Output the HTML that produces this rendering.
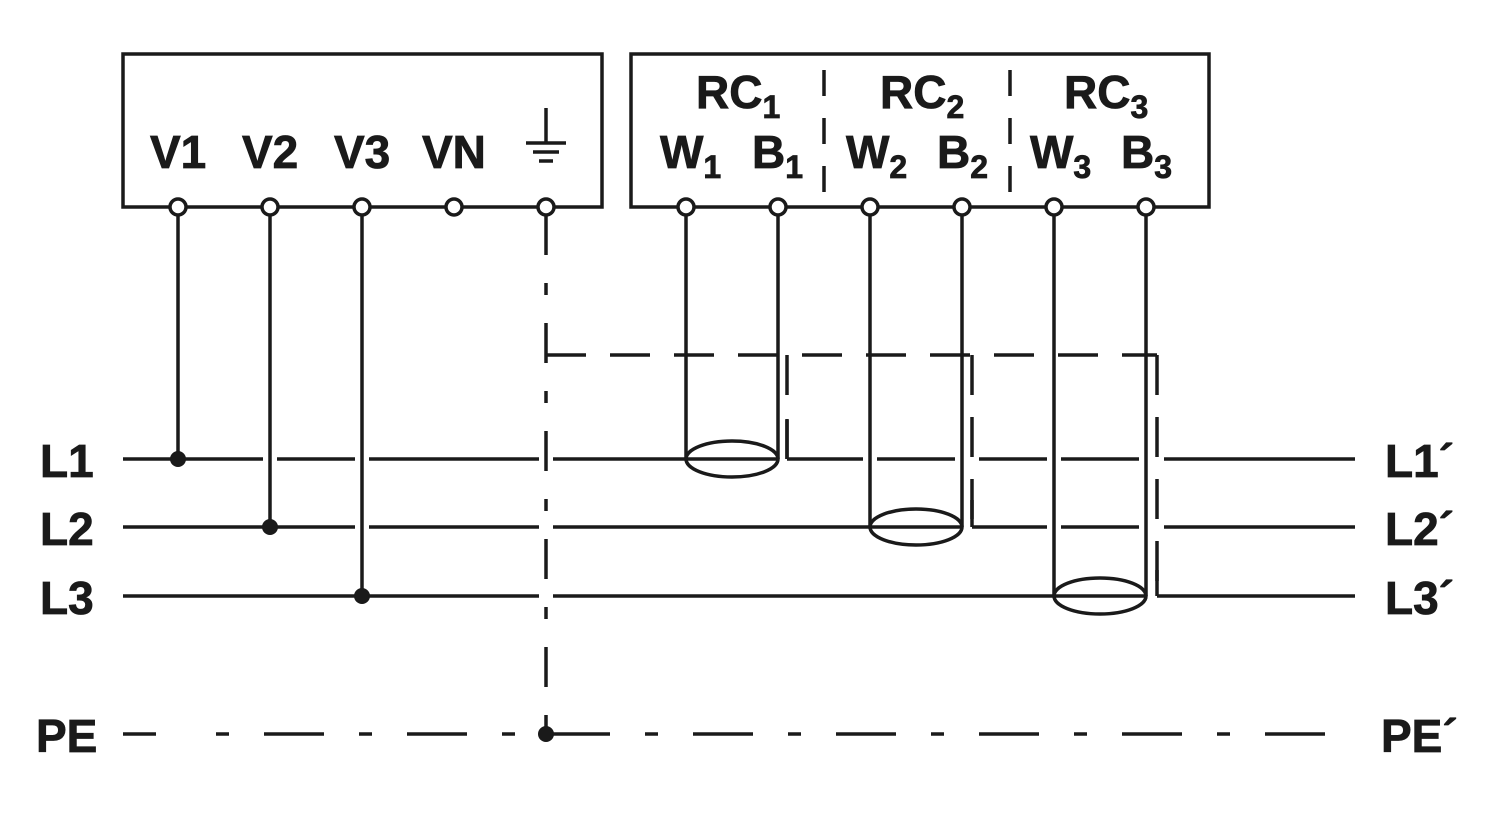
<!DOCTYPE html>
<html><head><meta charset="utf-8"><style>
html,body{margin:0;padding:0;background:#fff}
svg{display:block}
text{font-family:"Liberation Sans",sans-serif;font-weight:bold;fill:#1a1a1a}
</style></head><body>
<svg width="1500" height="821" viewBox="0 0 1500 821" xmlns="http://www.w3.org/2000/svg">
<g stroke="#1a1a1a" stroke-width="3.5" fill="none">
<rect x="123" y="54" width="479" height="153"/>
<rect x="631" y="54" width="578" height="153"/>
<line x1="824" y1="70" x2="824" y2="192" stroke-dasharray="26 22"/>
<line x1="1010" y1="70" x2="1010" y2="192" stroke-dasharray="26 22"/>
<line x1="546" y1="108" x2="546" y2="143"/>
<line x1="526" y1="143" x2="566" y2="143"/>
<line x1="533" y1="152" x2="559" y2="152"/>
<line x1="539" y1="161" x2="553" y2="161"/>
<line x1="123" y1="459" x2="686" y2="459"/>
<line x1="787" y1="459" x2="1355" y2="459"/>
<line x1="123" y1="527" x2="870" y2="527"/>
<line x1="972" y1="527" x2="1355" y2="527"/>
<line x1="123" y1="596" x2="1054" y2="596"/>
<line x1="1157" y1="596" x2="1355" y2="596"/>
<line x1="686" y1="459" x2="778" y2="459"/>
<line x1="870" y1="527" x2="962" y2="527"/>
<line x1="1054" y1="596" x2="1146" y2="596"/>
<line x1="123" y1="734" x2="1355" y2="734" stroke-dasharray="33 60 13 35 60 35 13 35 60 35 13 35 60 35 13 35 60 35 13 35 60 35 13 35 60 35 13 35 60 35 13 35 60 35 13 35 60 35 13 35 60 35 13 35"/>
</g>
<g stroke="#fff" stroke-width="14">
<line x1="270" y1="445" x2="270" y2="470"/>
<line x1="362" y1="445" x2="362" y2="540"/>
<line x1="546" y1="445" x2="546" y2="610"/>
<line x1="870" y1="445" x2="870" y2="470"/>
<line x1="962" y1="445" x2="962" y2="470"/>
<line x1="972" y1="445" x2="972" y2="470"/>
<line x1="1054" y1="445" x2="1054" y2="540"/>
<line x1="1146" y1="445" x2="1146" y2="540"/>
<line x1="1157" y1="445" x2="1157" y2="540"/>
</g>
<g stroke="#1a1a1a" stroke-width="3.5" fill="none">
<line x1="178" y1="215" x2="178" y2="459"/>
<line x1="270" y1="215" x2="270" y2="527"/>
<line x1="362" y1="215" x2="362" y2="596"/>
<line x1="546" y1="215" x2="546" y2="734" stroke-dasharray="40 28 12 28"/>
<line x1="546" y1="355" x2="1157" y2="355" stroke-dasharray="40 24"/>
<polyline points="787,355 787,459" stroke-dasharray="40 24"/>
<line x1="787" y1="420" x2="787" y2="459"/>
<line x1="972" y1="355" x2="972" y2="527" stroke-dasharray="40 22"/>
<line x1="972" y1="500" x2="972" y2="527"/>
<line x1="1157" y1="355" x2="1157" y2="596" stroke-dasharray="40 22"/>
<line x1="1157" y1="570" x2="1157" y2="596"/>
<line x1="686" y1="215" x2="686" y2="459"/>
<line x1="778" y1="215" x2="778" y2="459"/>
<line x1="870" y1="215" x2="870" y2="527"/>
<line x1="962" y1="215" x2="962" y2="527"/>
<line x1="1054" y1="215" x2="1054" y2="596"/>
<line x1="1146" y1="215" x2="1146" y2="596"/>
<ellipse cx="732" cy="459" rx="46" ry="18"/>
<ellipse cx="916" cy="527" rx="46" ry="18"/>
<ellipse cx="1100" cy="596" rx="46" ry="18"/>
<g fill="#fff">
<circle cx="178" cy="207" r="8"/><circle cx="270" cy="207" r="8"/><circle cx="362" cy="207" r="8"/><circle cx="454" cy="207" r="8"/><circle cx="546" cy="207" r="8"/>
<circle cx="686" cy="207" r="8"/><circle cx="778" cy="207" r="8"/><circle cx="870" cy="207" r="8"/><circle cx="962" cy="207" r="8"/><circle cx="1054" cy="207" r="8"/><circle cx="1146" cy="207" r="8"/>
</g>
</g>
<g fill="#1a1a1a">
<circle cx="178" cy="459" r="8"/><circle cx="270" cy="527" r="8"/><circle cx="362" cy="596" r="8"/><circle cx="546" cy="734" r="8"/>
</g>
<g font-size="46" stroke="#1a1a1a" stroke-width="0.8">
<text x="150" y="168">V1</text><text x="242" y="168">V2</text><text x="334" y="168">V3</text><text x="422" y="168">VN</text>
<text x="696" y="108">RC<tspan font-size="32" dy="10">1</tspan></text>
<text x="880" y="108">RC<tspan font-size="32" dy="10">2</tspan></text>
<text x="1064" y="108">RC<tspan font-size="32" dy="10">3</tspan></text>
<text x="660" y="168">W<tspan font-size="32" dy="10">1</tspan></text>
<text x="752" y="168">B<tspan font-size="32" dy="10">1</tspan></text>
<text x="846" y="168">W<tspan font-size="32" dy="10">2</tspan></text>
<text x="937" y="168">B<tspan font-size="32" dy="10">2</tspan></text>
<text x="1030" y="168">W<tspan font-size="32" dy="10">3</tspan></text>
<text x="1121" y="168">B<tspan font-size="32" dy="10">3</tspan></text>
<text x="40" y="477">L1</text><text x="40" y="545">L2</text><text x="40" y="614">L3</text><text x="36" y="752">PE</text>
<text x="1385" y="477">L1´</text><text x="1385" y="545">L2´</text><text x="1385" y="614">L3´</text><text x="1381" y="752">PE´</text>
</g>
</svg>
</body></html>
